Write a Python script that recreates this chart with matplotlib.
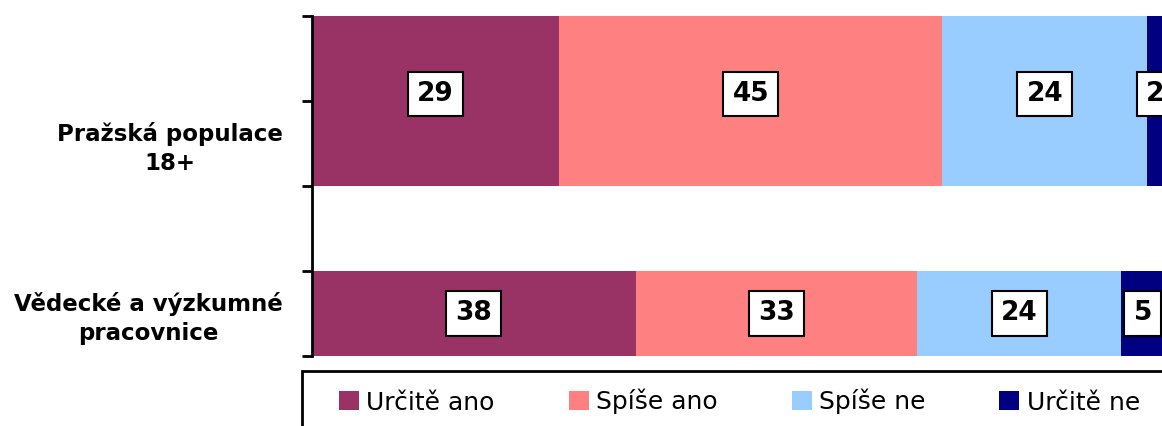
import matplotlib.pyplot as plt
from matplotlib.patches import Rectangle

categories = ["Pražská populace\n18+", "Vědecké a výzkumné\npracovnice"]
series_names = ["Určitě ano", "Spíše ano", "Spíše ne", "Určitě ne"]
prazska = [29, 45, 24, 2]
vedecke = [38, 33, 24, 5]
colors = ["#993366", "#FF8080", "#99CCFF", "#000080"]

# the original excel chart has 4 category slots, the first bar fills two of them
bar_centers = [1.0, 3.5]
bar_heights = [2.0, 1.0]
label_shift = [-0.08, 0.0]
label_pos = [1.5, 3.5]

fig = plt.figure(figsize=(11.62, 4.26), dpi=100)
ax = fig.add_axes([312 / 1162, 1 - 356 / 426, (1164 - 312) / 1162, 340 / 426])

values = [prazska, vedecke]
for i, name in enumerate(series_names):
    widths = [v[i] for v in values]
    lefts = [sum(v[:i]) for v in values]
    ax.barh(bar_centers, widths, left=lefts, height=bar_heights,
            color=colors[i], label=name)
    for y, dy, l, w in zip(bar_centers, label_shift, lefts, widths):
        ax.text(l + w / 2, y + dy, str(w), ha="center", va="center",
                fontsize=19, fontweight="bold",
                bbox=dict(boxstyle="square,pad=0.35", fc="white", ec="black", lw=1.5))

ax.set_xlim(0, 100)
ax.set_ylim(4, 0)
ax.set_yticks([0, 1, 2, 3, 4])
ax.set_yticklabels([])
ax.set_yticks(label_pos, minor=True)
ax.set_yticklabels(categories, minor=True, fontsize=16.5, fontweight="bold",
                   multialignment="center", linespacing=1.3)
ax.tick_params(axis="y", which="major", length=7, width=2, direction="out")
ax.tick_params(axis="y", which="minor", length=0, pad=21)
ax.xaxis.set_visible(False)
for s in ["top", "right", "bottom"]:
    ax.spines[s].set_visible(False)
ax.spines["left"].set_linewidth(2)

fig.legend(ncol=4, loc="upper left", bbox_to_anchor=(339 / 1162, 1 - 389 / 426),
           frameon=False, fontsize=18, handlelength=0.8, handleheight=0.8,
           handletextpad=0.3, columnspacing=2.95, borderaxespad=0, borderpad=0)
fig.add_artist(Rectangle((302 / 1162, -0.5), 2, 0.5 + (1 - 371 / 426),
                         transform=fig.transFigure, fill=False, ec="black", lw=2))

fig.savefig("out.png", dpi=100)
